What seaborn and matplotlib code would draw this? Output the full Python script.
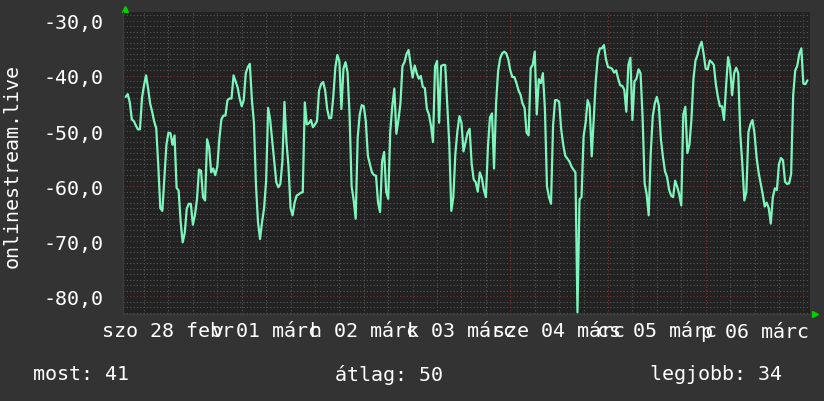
import numpy as np
import pandas as pd
import matplotlib
matplotlib.use('Agg')
import matplotlib.pyplot as plt
import seaborn as sns

# signal level, one value per 30 minutes, starting 2015-02-28 01:30
feb28 = [-43.8, -43.3, -44.8, -47.9, -48.2, -49.0, -49.7, -49.7, -44.0, -41.7,
         -39.9, -42.3, -45.0, -46.5, -48.3, -49.5, -56.2, -64.0, -64.5, -58.5,
         -52.5, -50.3, -50.4, -52.5, -50.8, -60.3, -60.8, -66.5, -70.2, -68.5,
         -64.1, -63.2, -63.2, -67.0, -65.3, -62.5, -57.0, -57.2, -62.0, -62.6,
         -51.5, -53.0, -57.5, -56.8, -58.0]
mar01 = [-56.5, -51.5, -47.9, -47.2, -47.2, -44.4, -44.1, -44.1, -39.9,
         -41.0, -42.1, -44.1, -45.5, -44.4, -39.5, -38.4, -37.8, -44.3, -48.5,
         -59.7, -66.5, -69.6, -66.5, -64.0, -59.0, -45.8, -48.0, -51.7, -55.5,
         -59.3, -60.2, -59.6, -55.5, -44.7, -52.0, -56.5, -64.0, -65.3, -63.0,
         -61.7, -61.5, -61.2, -61.1, -44.8, -48.8, -48.6, -48.0, -49.3]
mar02 = [-48.8, -48.2, -42.7, -41.5, -41.1, -42.6, -46.0, -47.7, -47.6, -43.8,
         -38.5, -36.2, -37.4, -46.0, -38.7, -37.5, -39.3, -47.0, -60.0, -62.5,
         -65.9, -51.1, -47.0, -45.3, -45.5, -48.3, -54.5, -56.0, -57.5, -58.0,
         -58.1, -63.0, -64.7, -55.5, -53.8, -61.0, -62.3, -50.0, -45.5, -42.3,
         -50.5, -48.0, -45.0, -38.2, -37.5, -36.0, -35.3, -37.9]
mar03 = [-40.3, -38.1, -39.5, -40.5, -40.0, -42.0, -42.2, -46.0, -47.0, -49.0,
         -52.0, -38.3, -37.3, -48.5, -38.2, -38.0, -38.0, -45.0, -52.3, -64.5,
         -62.0, -54.1, -50.0, -47.3, -48.5, -53.7, -52.0, -50.3, -49.6, -55.9,
         -58.8, -59.3, -61.0, -57.5, -58.5, -60.7, -62.0, -52.9, -47.5, -46.8,
         -56.8, -45.0, -39.1, -36.8, -35.9, -35.6, -35.9, -37.0]
mar04 = [-39.0, -40.2, -40.2, -41.3, -42.6, -43.4, -45.0, -45.8, -50.3, -50.8,
         -38.6, -38.0, -35.6, -47.0, -40.6, -41.3, -39.5, -46.0, -60.0, -62.0,
         -63.2, -49.0, -44.4, -44.4, -44.7, -49.7, -52.5, -54.5, -55.0, -55.5,
         -56.4, -57.0, -57.5, -82.9, -62.4, -62.0, -51.0, -48.5, -44.4, -45.5,
         -54.6, -47.6, -40.9, -36.5, -35.0, -35.0, -34.4, -37.0]
mar05 = [-38.4, -38.5, -38.7, -39.4, -39.0, -40.5, -41.7, -41.8, -42.5, -46.5,
         -38.0, -36.7, -48.0, -41.0, -40.5, -38.8, -39.5, -47.5, -59.5, -61.5,
         -65.3, -54.1, -47.3, -45.0, -43.8, -45.4, -51.5, -54.7, -57.3, -58.3,
         -60.6, -61.7, -62.0, -59.0, -60.1, -61.5, -63.5, -47.0, -45.6, -54.0,
         -52.5, -47.9, -40.5, -37.2, -36.2, -34.7, -33.8, -36.0]
mar06 = [-38.7, -38.8, -37.2, -37.5, -38.0, -41.5, -43.8, -45.5, -45.5, -48.0,
         -42.0, -36.6, -38.5, -43.5, -39.5, -38.5, -39.5, -50.5, -56.0, -62.6,
         -61.0, -50.2, -48.8, -48.0, -50.5, -54.7, -57.5, -59.5, -61.4, -63.7,
         -63.0, -64.0, -66.8, -62.0, -60.4, -60.7, -56.0, -54.9, -55.3, -59.2,
         -59.6, -59.5, -57.8, -43.5, -39.0, -38.2, -36.0, -35.0]
mar07 = [-41.4, -41.5, -40.8]

day_labels = ["szo 28 febr", "v 01 márc", "h 02 márc", "k 03 márc",
              "sze 04 márc", "cs 05 márc", "p 06 márc"]
y_ticks = [-80, -70, -60, -50, -40, -30]
series_name = "onlinestream.live"
summary = [("most", 41), ("átlag", 50), ("legjobb", 34)]

values = feb28 + mar01 + mar02 + mar03 + mar04 + mar05 + mar06 + mar07
times = pd.date_range("2015-02-28 01:30", periods=len(values), freq="30min")
df = pd.DataFrame({"time": times, "level": values})

BG = "#333333"
PLOT_BG = "#222222"
FG = "#ffffff"
LINE = "#7ef5bd"
MINOR = "#575757"
MAJOR = "#7a3434"
FONT = ["DejaVu Sans Mono"]

sns.set_style("dark")
plt.rcParams.update({"font.family": FONT, "font.size": 14.4})

W, H = 824, 402
fig = plt.figure(figsize=(W / 100, H / 100), dpi=100, facecolor=BG)
ax = fig.add_axes([123 / W, 1 - 315 / H, 687 / W, 302 / H])
ax.set_facecolor(PLOT_BG)

x0 = pd.Timestamp("2015-02-28 00:50")
x1 = pd.Timestamp("2015-03-07 01:38")

# grid, drawn by hand like rrdtool: dotted gray minor, dotted red major
for v in range(-83, -28):
    col = MAJOR if v % 10 == 0 else MINOR
    ax.axhline(v, color=col, lw=0.8, ls=(0, (1, 2)), zorder=1)
for t in pd.date_range("2015-02-28 06:00", "2015-03-07 00:00", freq="6h"):
    col = MAJOR if t.hour == 0 else MINOR
    ax.axvline(t, color=col, lw=0.8, ls=(0, (1, 2)), zorder=1)

sns.lineplot(data=df, x="time", y="level", ax=ax, color=LINE, lw=1.6, zorder=3)

ax.set_xlim(x0, x1)
ax.set_ylim(-83.2, -28.4)
ax.grid(False)

noon = pd.date_range("2015-02-28 12:00", periods=len(day_labels), freq="D")
ax.set_xticks(noon)
ax.set_xticklabels(day_labels)
ax.set_yticks(y_ticks)
ax.set_yticklabels([f"{v:.1f}".replace(".", ",") for v in y_ticks])
ax.tick_params(axis="x", length=0, pad=5, colors=FG, labelsize=14.4)
ax.tick_params(axis="y", length=0, pad=14, colors=FG, labelsize=14.4)
ax.set_xlabel("")
ax.set_ylabel("")

for s in ["top", "right"]:
    ax.spines[s].set_visible(False)
for s in ["left", "bottom"]:
    ax.spines[s].set_color("#3c3c3c")
    ax.spines[s].set_linewidth(1)

# small green arrow heads at the axis ends
ax.plot([125 / W], [1 - 10 / H], marker="^", color="#00d000", ms=5,
        transform=fig.transFigure, clip_on=False)
ax.plot([815 / W], [1 - 315 / H], marker=">", color="#00d000", ms=5,
        transform=fig.transFigure, clip_on=False)

fig.text(12 / W, 1 - 166 / H, series_name, rotation=90, ha="center",
         va="center", color=FG, fontsize=14.4)

for (name, val), xpos in zip(summary, [33, 335, 650]):
    fig.text(xpos / W, 1 - 375 / H, f"{name}: {val}", ha="left", va="center",
             color=FG, fontsize=14.4)

fig.savefig("out.png", dpi=100, facecolor=BG)
